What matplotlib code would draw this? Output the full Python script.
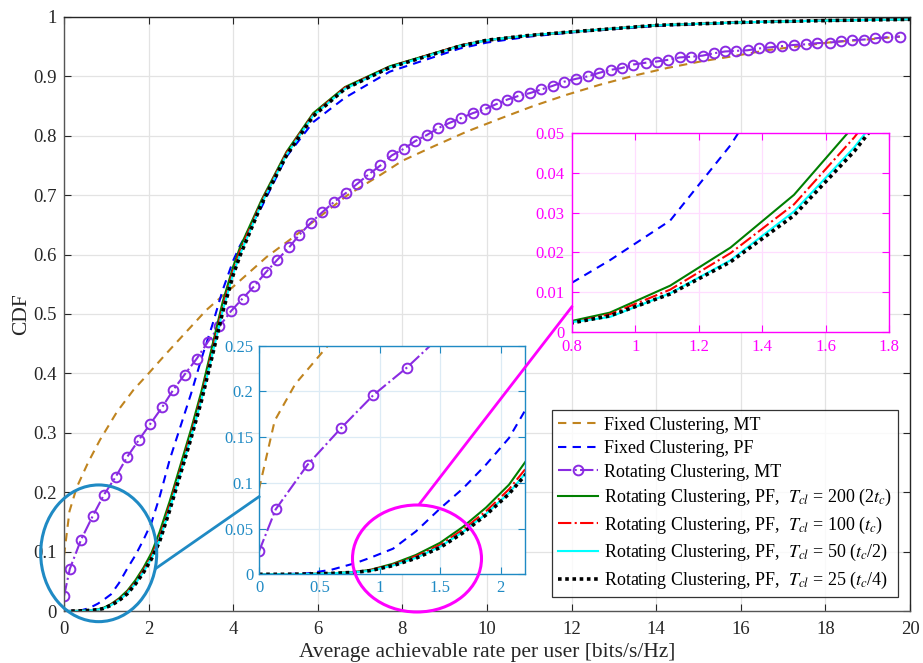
import numpy as np
import matplotlib
matplotlib.use("Agg")
import matplotlib.pyplot as plt
from matplotlib.patches import Ellipse
from matplotlib.lines import Line2D

plt.rcParams['font.family'] = ['Liberation Serif', 'DejaVu Serif']
plt.rcParams['mathtext.fontset'] = 'stix'

# ---------------- data ----------------
x_fixed_mt = [0.0, 0.13, 0.3, 0.57, 0.85, 1.25, 1.64, 2.0, 2.4, 2.8, 3.37, 4.0, 4.79, 5.34,
              6.05, 6.7, 7.5, 8.0, 8.73, 9.52, 10.31, 11.09, 11.88, 12.67, 13.46, 14.25,
              15.04, 15.82, 16.61, 17.4, 18.19, 18.98, 19.76]
cdf_fixed_mt = [0.093, 0.168, 0.208, 0.25, 0.288, 0.335, 0.372, 0.400, 0.432, 0.463, 0.507,
                0.546, 0.596, 0.625, 0.664, 0.700, 0.735, 0.758, 0.782, 0.807, 0.829, 0.850,
                0.869, 0.886, 0.901, 0.914, 0.925, 0.934, 0.944, 0.951, 0.958, 0.962, 0.967]

x_pf = [0.0, 0.2, 0.4, 0.6, 0.8, 0.92, 1.11, 1.30, 1.50, 1.69, 1.88, 2.07, 2.26, 2.5, 2.75,
        3.0, 3.25, 3.5, 3.75, 4.0, 4.16, 4.67, 5.26, 5.89, 6.64, 7.7, 9.36, 10.0, 11.0, 12.0,
        14.0, 16.0, 18.0, 20.0]
cdf_fixed_pf = [0.0, 0.0002, 0.001, 0.005, 0.0123, 0.018, 0.028, 0.047, 0.072, 0.094, 0.12,
                0.149, 0.192, 0.255, 0.31, 0.365, 0.425, 0.48, 0.54, 0.59, 0.615, 0.68,
                0.765, 0.823, 0.864, 0.908, 0.947, 0.957, 0.967, 0.974, 0.985, 0.991, 0.994, 0.996]
cdf_rot_pf_200 = [0.0, 0.0, 0.0003, 0.001, 0.0027, 0.0048, 0.0116, 0.0212, 0.0345, 0.052,
                  0.073, 0.098, 0.133, 0.185, 0.245, 0.305, 0.37, 0.445, 0.52, 0.58, 0.612,
                  0.692, 0.773, 0.838, 0.882, 0.917, 0.952, 0.961, 0.969, 0.975, 0.986, 0.991,
                  0.994, 0.996]
cdf_rot_pf_100 = [0.0, 0.0, 0.0003, 0.001, 0.0023, 0.0044, 0.0106, 0.0198, 0.0321, 0.049,
                  0.069, 0.093, 0.124, 0.178, 0.238, 0.298, 0.362, 0.437, 0.512, 0.574, 0.606,
                  0.689, 0.771, 0.836, 0.881, 0.916, 0.952, 0.961, 0.969, 0.975, 0.986, 0.991,
                  0.994, 0.996]
cdf_rot_pf_50 = [0.0, 0.0, 0.0003, 0.001, 0.0024, 0.0037, 0.0097, 0.018, 0.0303, 0.0465,
                 0.066, 0.089, 0.119, 0.172, 0.232, 0.292, 0.356, 0.43, 0.505, 0.568, 0.60,
                 0.686, 0.768, 0.834, 0.879, 0.915, 0.951, 0.961, 0.969, 0.975, 0.986, 0.991,
                 0.994, 0.996]
cdf_rot_pf_25 = [0.0, 0.0, 0.0003, 0.001, 0.0022, 0.0040, 0.0095, 0.0176, 0.0293, 0.0455,
                 0.065, 0.088, 0.117, 0.170, 0.230, 0.290, 0.354, 0.428, 0.503, 0.566, 0.598,
                 0.685, 0.767, 0.833, 0.879, 0.915, 0.951, 0.961, 0.969, 0.975, 0.986, 0.991,
                 0.994, 0.996]

x_rot_mt = [0, 0.138, 0.403, 0.68, 0.947, 1.224, 1.49, 1.77, 2.04, 2.32, 2.58, 2.85, 3.14,
            3.40, 3.67, 3.95, 4.22, 4.5, 4.77, 5.04, 5.32, 5.56, 5.84, 6.1, 6.39, 6.67, 6.93,
            7.2, 7.48, 7.75, 8.03, 8.3, 8.57, 8.85, 9.12, 9.39, 9.66, 9.95, 10.21, 10.48,
            10.74, 11.02, 11.28, 11.55, 11.82, 12.11, 12.38, 12.65, 12.92, 13.18, 13.46,
            13.75, 14.01, 14.29, 14.56, 14.82, 15.1, 15.37, 15.63, 15.89, 16.16, 16.43, 16.7,
            16.98, 17.26, 17.54, 17.81, 18.1, 18.37, 18.64, 18.91, 19.17, 19.45, 19.76]
cdf_rot_mt = [0.025, 0.071, 0.12, 0.16, 0.196, 0.226, 0.259, 0.288, 0.315, 0.343, 0.372,
              0.398, 0.425, 0.453, 0.479, 0.505, 0.526, 0.547, 0.570, 0.591, 0.612, 0.633,
              0.654, 0.671, 0.689, 0.704, 0.719, 0.735, 0.75, 0.767, 0.778, 0.791, 0.801,
              0.813, 0.822, 0.830, 0.838, 0.845, 0.853, 0.861, 0.867, 0.872, 0.878, 0.884,
              0.891, 0.896, 0.900, 0.906, 0.911, 0.914, 0.920, 0.923, 0.925, 0.928, 0.932,
              0.933, 0.935, 0.939, 0.942, 0.943, 0.944, 0.947, 0.949, 0.951, 0.953, 0.954,
              0.956, 0.957, 0.959, 0.961, 0.962, 0.964, 0.966, 0.967]

labels = ['Fixed Clustering, MT',
          'Fixed Clustering, PF',
          'Rotating Clustering, MT',
          r'Rotating Clustering, PF,  $T_{cl}$ = 200 (2$t_c$)',
          r'Rotating Clustering, PF,  $T_{cl}$ = 100 ($t_c$)',
          r'Rotating Clustering, PF,  $T_{cl}$ = 50 ($t_c$/2)',
          r'Rotating Clustering, PF,  $T_{cl}$ = 25 ($t_c$/4)']

x_ticks = [0, 2, 4, 6, 8, 10, 12, 14, 16, 18, 20]
y_ticks = [0, 0.1, 0.2, 0.3, 0.4, 0.5, 0.6, 0.7, 0.8, 0.9, 1.0]

# ---------------- styles ----------------
C_BROWN = '#C0841F'
C_BLUE = '#0000FF'
C_PURPLE = '#8A2BE2'
C_GREEN = '#007F00'
C_RED = '#FF0000'
C_CYAN = '#00FFFF'
C_BLACK = '#000000'
C_INSET1 = '#1F8AC4'
C_INSET2 = '#FF00FF'
AX_COL = '#262626'

W, H = 923, 663
fig = plt.figure(figsize=(W / 100, H / 100), dpi=100)


def px_rect(x0, y_top, x1, y_bot):
    return [x0 / W, 1 - y_bot / H, (x1 - x0) / W, (y_bot - y_top) / H]


def draw_curves(ax, lw=1.5, ms=7, with_labels=True):
    lb = labels if with_labels else [None] * 7
    ax.plot(x_fixed_mt, cdf_fixed_mt, linestyle=(0, (4, 3)), color=C_BROWN, lw=lw, label=lb[0])
    ax.plot(x_pf, cdf_fixed_pf, linestyle=(0, (4, 3)), color=C_BLUE, lw=lw, label=lb[1])
    ax.plot(x_rot_mt, cdf_rot_mt, linestyle='-.', color=C_PURPLE, lw=lw, marker='o',
            markersize=ms, markerfacecolor='none', markeredgewidth=1.4, label=lb[2])
    ax.plot(x_pf, cdf_rot_pf_200, '-', color=C_GREEN, lw=lw, label=lb[3])
    ax.plot(x_pf, cdf_rot_pf_100, '-.', color=C_RED, lw=lw, label=lb[4])
    ax.plot(x_pf, cdf_rot_pf_50, '-', color=C_CYAN, lw=lw, label=lb[5])
    ax.plot(x_pf, cdf_rot_pf_25, linestyle=(0, (1, 1)), color=C_BLACK, lw=2.6, label=lb[6])


def style_axes(ax, color, gridcolor, fs):
    for s in ax.spines.values():
        s.set_color(color)
        s.set_linewidth(1.0)
    ax.tick_params(direction='in', which='both', top=True, right=True, colors=color,
                   labelcolor=color, labelsize=fs, length=5, width=0.8)
    ax.grid(True, color=gridcolor, lw=0.9)
    ax.set_axisbelow(True)


# ---------------- main axes ----------------
ax = fig.add_axes(px_rect(64, 17, 910, 611))
draw_curves(ax)
ax.set_xlim(0, 20)
ax.set_ylim(0, 1)
ax.set_xticks(x_ticks)
ax.set_xticklabels([str(t) for t in x_ticks])
ax.set_yticks(y_ticks)
ax.set_yticklabels(['0', '0.1', '0.2', '0.3', '0.4', '0.5', '0.6', '0.7', '0.8', '0.9', '1'])
style_axes(ax, AX_COL, '#E3E3E3', 13.5)
ax.tick_params(axis='y', pad=5)
ax.tick_params(axis='x', pad=7)
ax.spines['left'].set_color('#555555')
ax.spines['bottom'].set_color('#555555')
ax.set_xlabel('Average achievable rate per user [bits/s/Hz]', fontsize=15.5, color=AX_COL,
              labelpad=4)
ax.set_ylabel('CDF', fontsize=15.5, color=AX_COL, labelpad=2)

leg = ax.legend(loc='lower right', bbox_to_anchor=(0.986, 0.023), borderaxespad=0,
                fontsize=13, frameon=True, fancybox=False, handlelength=2.2,
                handletextpad=0.3, labelspacing=0.36, borderpad=0.35)
leg.get_frame().set_edgecolor('#000000')
leg.get_frame().set_linewidth(0.9)

# ---------------- lower inset ----------------
ax1 = fig.add_axes(px_rect(259, 345.7, 524.7, 574.3))
draw_curves(ax1, with_labels=False)
ax1.set_xlim(0, 2.2)
ax1.set_ylim(0, 0.25)
ax1.set_xticks([0, 0.5, 1, 1.5, 2])
ax1.set_xticklabels(['0', '0.5', '1', '1.5', '2'])
ax1.set_yticks([0, 0.05, 0.1, 0.15, 0.2, 0.25])
ax1.set_yticklabels(['0', '0.05', '0.1', '0.15', '0.2', '0.25'])
style_axes(ax1, C_INSET1, '#DCEBF5', 12)
ax1.tick_params(pad=4)

# ---------------- upper inset ----------------
ax2 = fig.add_axes(px_rect(571.7, 133.3, 889.3, 331.7))
draw_curves(ax2, with_labels=False)
ax2.set_xlim(0.8, 1.8)
ax2.set_ylim(0, 0.05)
ax2.set_xticks([0.8, 1.0, 1.2, 1.4, 1.6, 1.8])
ax2.set_xticklabels(['0.8', '1', '1.2', '1.4', '1.6', '1.8'])
ax2.set_yticks([0, 0.01, 0.02, 0.03, 0.04, 0.05])
ax2.set_yticklabels(['0', '0.01', '0.02', '0.03', '0.04', '0.05'])
style_axes(ax2, C_INSET2, '#FFDDFF', 12)
ax2.tick_params(pad=5)

# ---------------- zoom markers ----------------
e1 = Ellipse((98.7 / W, 1 - 553.3 / H), 116 / W, 136.7 / H, transform=fig.transFigure,
             fill=False, edgecolor=C_INSET1, lw=2.2, zorder=5)
fig.add_artist(e1)
fig.add_artist(Line2D([156 / W, 259 / W], [1 - 568.3 / H, 1 - 496.7 / H],
                      transform=fig.transFigure, color=C_INSET1, lw=2.0, zorder=5))

e2 = Ellipse((417 / W, 1 - 558.5 / H), 129 / W, 107 / H, transform=fig.transFigure,
             fill=False, edgecolor=C_INSET2, lw=2.2, zorder=5)
fig.add_artist(e2)
fig.add_artist(Line2D([420 / W, 571.7 / W], [1 - 503.3 / H, 1 - 307 / H],
                      transform=fig.transFigure, color=C_INSET2, lw=2.0, zorder=5))

fig.savefig('out.png', dpi=100)
